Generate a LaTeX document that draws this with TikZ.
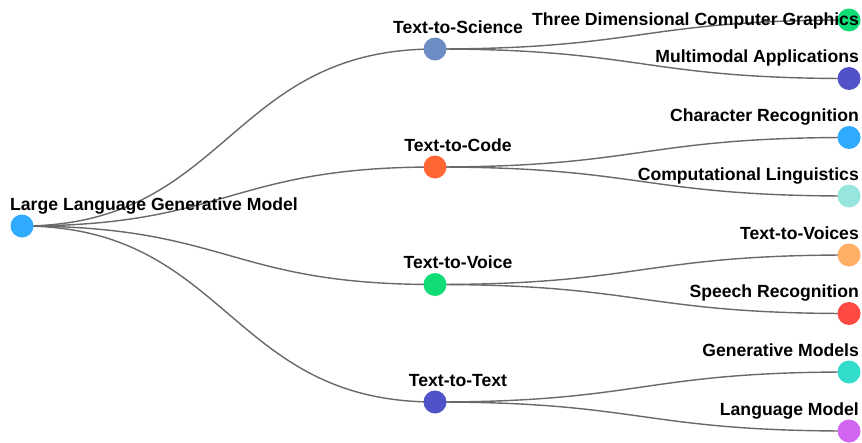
\documentclass[tikz,border=0pt]{standalone}
\usepackage{fontspec}
\setmainfont{Liberation Sans}
\definecolor{cRoot}{RGB}{46,170,255}
\definecolor{cSci}{RGB}{108,140,196}
\definecolor{cCode}{RGB}{255,102,51}
\definecolor{cVoice}{RGB}{17,221,119}
\definecolor{cText}{RGB}{82,82,200}
\definecolor{cCL}{RGB}{150,230,222}
\definecolor{cTV}{RGB}{255,176,102}
\definecolor{cSR}{RGB}{255,74,68}
\definecolor{cGM}{RGB}{51,221,204}
\definecolor{cLM}{RGB}{210,102,242}
\definecolor{cLink}{RGB}{105,105,105}
\tikzset{
  dot/.style={circle,inner sep=0pt,minimum size=23pt,fill=#1},
  lbl/.style={font=\bfseries\fontsize{17.6}{19}\selectfont,inner sep=0pt,text=black},
  lnk/.style={draw=cLink,line width=1.4pt}
}
\newcommand{\tlink}[2]{\draw[lnk] (#1) .. controls +(206.5,0) and +(-206.5,0) .. (#2);}
\begin{document}
\begin{tikzpicture}[x=1pt,y=-1pt]
\useasboundingbox (0,0) rectangle (862,442);
\fill[white] (0,0) rectangle (862,442);
% node positions
\coordinate (r) at (22,226);
\coordinate (s) at (435,49);
\coordinate (c) at (435,167);
\coordinate (v) at (435,284.5);
\coordinate (t) at (435,402);
\coordinate (l1) at (849,20);
\coordinate (l2) at (849,78.5);
\coordinate (l3) at (849,137.5);
\coordinate (l4) at (849,196);
\coordinate (l5) at (849,255);
\coordinate (l6) at (849,313.5);
\coordinate (l7) at (849,372);
\coordinate (l8) at (849,431);
% links
\tlink{r}{s}\tlink{r}{c}\tlink{r}{v}\tlink{r}{t}
\tlink{s}{l1}\tlink{s}{l2}
\tlink{c}{l3}\tlink{c}{l4}
\tlink{v}{l5}\tlink{v}{l6}
\tlink{t}{l7}\tlink{t}{l8}
% dots
\node[dot=cRoot] (rn) at (r) {};
\node[dot=cSci] (sn) at (s) {};
\node[dot=cCode] (cn) at (c) {};
\node[dot=cVoice] (vn) at (v) {};
\node[dot=cText] (tn) at (t) {};
\node[dot=cVoice] (l1n) at (l1) {};
\node[dot=cText] (l2n) at (l2) {};
\node[dot=cRoot] (l3n) at (l3) {};
\node[dot=cCL] (l4n) at (l4) {};
\node[dot=cTV] (l5n) at (l5) {};
\node[dot=cSR] (l6n) at (l6) {};
\node[dot=cGM] (l7n) at (l7) {};
\node[dot=cLM] (l8n) at (l8) {};
% labels
\node[lbl,anchor=base west] (rl) at (10,210) {Large Language Generative Model};
\node[lbl,anchor=base] (sl) at (458,33) {Text-to-Science};
\node[lbl,anchor=base] (cl) at (458,151) {Text-to-Code};
\node[lbl,anchor=base] (vl) at (458,268.5) {Text-to-Voice};
\node[lbl,anchor=base] (tl) at (458,386) {Text-to-Text};
\node[lbl,anchor=base east] (l1l) at (859,25) {Three Dimensional Computer Graphics};
\node[lbl,anchor=base east] (l2l) at (859,62.5) {Multimodal Applications};
\node[lbl,anchor=base east] (l3l) at (859,121.5) {Character Recognition};
\node[lbl,anchor=base east] (l4l) at (859,180) {Computational Linguistics};
\node[lbl,anchor=base east] (l5l) at (859,239) {Text-to-Voices};
\node[lbl,anchor=base east] (l6l) at (859,297.5) {Speech Recognition};
\node[lbl,anchor=base east] (l7l) at (859,356) {Generative Models};
\node[lbl,anchor=base east] (l8l) at (859,415) {Language Model};
\end{tikzpicture}
\end{document}
